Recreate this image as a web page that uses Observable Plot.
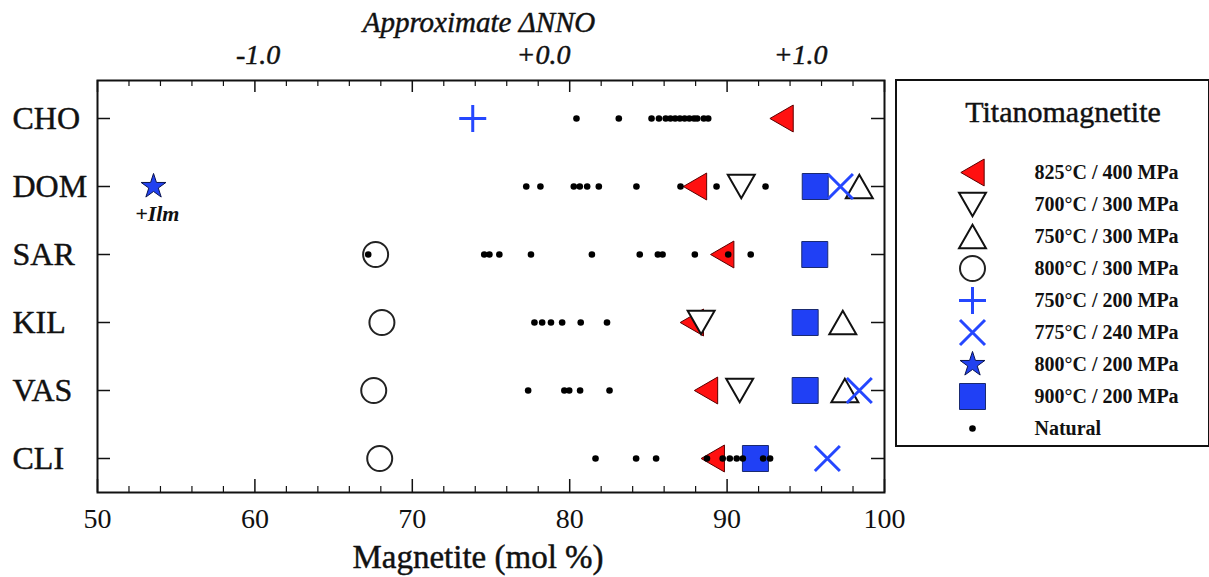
<!DOCTYPE html>
<html><head><meta charset="utf-8">
<script src="https://cdn.jsdelivr.net/npm/d3@7"></script>
<script src="https://cdn.jsdelivr.net/npm/@observablehq/plot@0.6"></script>
<style>
body{margin:0;background:#fff;}
#wrap{position:relative;width:1209px;height:577px;overflow:hidden;}
#legend{position:absolute;left:895px;top:79px;width:311px;height:364px;border:2px solid #111;background:#fff;}
svg{overflow:visible;}
</style></head><body><div id="wrap"><div id="chart"></div><div id="legend"></div></div>
<script>
// ---------- data ----------
const rows = ["CHO", "DOM", "SAR", "KIL", "VAS", "CLI"];
const xTickValues = [50, 60, 70, 80, 90, 100];
const xMinorTicks = [52, 54, 56, 58, 62, 64, 66, 68, 72, 74, 76, 78, 82, 84, 86, 88, 92, 94, 96, 98];
const nnoLabels = ["-1.0", "+0.0", "+1.0"];
const nnoAt = [60.2, 78.34, 94.67];
const topTitle = "Approximate \u0394NNO";
const xLabel = "Magnetite (mol %)";
const legendTitle = "Titanomagnetite";

// experimental runs: [row, magnetite mol%]
const t825_400 = [["CHO", 93.46], ["DOM", 87.96], ["SAR", 89.69], ["KIL", 87.76], ["VAS", 88.66], ["CLI", 89.09]];
const t700_300 = [["DOM", 90.9], ["KIL", 88.35], ["VAS", 90.8]];
const t750_300 = [["DOM", 98.4], ["KIL", 97.35], ["VAS", 97.48]];
const t800_300 = [["SAR", 67.67], ["KIL", 68.07], ["VAS", 67.55], ["CLI", 67.93]];
const t750_200 = [["CHO", 73.84]];
const t775_240 = [["DOM", 97.2], ["VAS", 98.4], ["CLI", 96.37]];
const t800_200 = [["DOM", 53.56]];
const t900_200 = [["DOM", 95.6], ["SAR", 95.57], ["KIL", 94.96], ["VAS", 94.96], ["CLI", 91.8]];

// natural samples
const naturalCHO = [80.43, 83.12, 85.2, 85.67, 86.1, 86.4, 86.7, 87.0, 87.3, 87.6, 87.9, 88.1, 88.52, 88.8];
const naturalDOM = [77.24, 78.14, 80.26, 80.64, 81.11, 81.85, 84.24, 87.04, 89.33, 92.44];
const naturalSAR = [67.2, 74.57, 74.9, 75.53, 77.54, 81.41, 84.45, 85.6, 85.9, 87.95, 90.07, 91.5];
const naturalKIL = [77.76, 78.25, 78.81, 79.52, 80.7, 82.37];
const naturalVAS = [77.36, 79.66, 79.97, 80.66, 82.53];
const naturalCLI = [81.64, 84.22, 85.49, 88.72, 89.72, 90.17, 90.61, 91.0, 92.29, 92.73];

const ilmNote = [{row: "DOM", x: 53.8, label: "+Ilm"}];

// ---------- symbols & styles ----------
const sqrt3 = Math.sqrt(3);
function triSymbol(rot) {
  return {draw(ctx, size) {
    const y = -Math.sqrt(size / (sqrt3 * 3));
    let p = [[0, y * 2], [-sqrt3 * y, -y], [sqrt3 * y, -y]].map(rot);
    const xs = p.map(q => q[0]), ys = p.map(q => q[1]);
    const cx = (Math.min(...xs) + Math.max(...xs)) / 2, cy = (Math.min(...ys) + Math.max(...ys)) / 2;
    p = p.map(([a, b]) => [a - cx, b - cy]);
    ctx.moveTo(p[0][0], p[0][1]); ctx.lineTo(p[1][0], p[1][1]); ctx.lineTo(p[2][0], p[2][1]); ctx.closePath();
  }};
}
const triLeft = triSymbol(([x, y]) => [y, -x]);
const triDown = triSymbol(([x, y]) => [x, -y]);
const triUp = triSymbol(p => p);
const plusSym = {draw(ctx, size) { const r = Math.sqrt(size / Math.PI); ctx.moveTo(-r, 0); ctx.lineTo(r, 0); ctx.moveTo(0, -r); ctx.lineTo(0, r); }};
const timesSym = {draw(ctx, size) { const r = Math.sqrt(size / Math.PI); ctx.moveTo(-r, -r); ctx.lineTo(r, r); ctx.moveTo(-r, r); ctx.lineTo(r, -r); }};
const squareSym = {draw(ctx, size) { const r = Math.sqrt(size / Math.PI); ctx.moveTo(-r, -r); ctx.lineTo(r, -r); ctx.lineTo(r, r); ctx.lineTo(-r, r); ctx.closePath(); }};

const blue = "#2547ff";
const styles = {
  "825°C / 400 MPa": {symbol: triLeft, r: 10, fill: "#ff1010", stroke: "#5a0000", strokeWidth: 1},
  "700°C / 300 MPa": {symbol: triDown, r: 10, fill: "#fff", stroke: "#111", strokeWidth: 2},
  "750°C / 300 MPa": {symbol: triUp, r: 10, fill: "#fff", stroke: "#111", strokeWidth: 2},
  "800°C / 300 MPa": {symbol: "circle", r: 12.5, fill: "none", stroke: "#222", strokeWidth: 2},
  "750°C / 200 MPa": {symbol: plusSym, r: 13.5, fill: "none", stroke: blue, strokeWidth: 3},
  "775°C / 240 MPa": {symbol: timesSym, r: 12.5, fill: "none", stroke: blue, strokeWidth: 3},
  "800°C / 200 MPa": {symbol: "star", r: 7.8, fill: "#2242f0", stroke: "#0a1450", strokeWidth: 1},
  "900°C / 200 MPa": {symbol: squareSym, r: 13, fill: "#2040f5", stroke: "#1a2a70", strokeWidth: 1},
  "Natural": {symbol: "circle", r: 3.3, fill: "#000", stroke: "none", strokeWidth: 0}
};
const series = {
  "825°C / 400 MPa": t825_400, "700°C / 300 MPa": t700_300, "750°C / 300 MPa": t750_300,
  "800°C / 300 MPa": t800_300, "750°C / 200 MPa": t750_200, "775°C / 240 MPa": t775_240,
  "800°C / 200 MPa": t800_200, "900°C / 200 MPa": t900_200
};
const legendNames = ["825°C / 400 MPa", "700°C / 300 MPa", "750°C / 300 MPa", "800°C / 300 MPa",
  "750°C / 200 MPa", "775°C / 240 MPa", "800°C / 200 MPa", "900°C / 200 MPa", "Natural"];
const drawOrder = ["825°C / 400 MPa", "700°C / 300 MPa", "900°C / 200 MPa", "750°C / 300 MPa",
  "800°C / 300 MPa", "750°C / 200 MPa", "775°C / 240 MPa", "800°C / 200 MPa"];

const natural = [
  ...naturalCHO.map(v => ["CHO", v]), ...naturalDOM.map(v => ["DOM", v]),
  ...naturalSAR.map(v => ["SAR", v]), ...naturalKIL.map(v => ["KIL", v]),
  ...naturalVAS.map(v => ["VAS", v]), ...naturalCLI.map(v => ["CLI", v])
];

// ---------- main chart ----------
const serif = "'Liberation Serif', 'Times New Roman', serif";
const W = 1209, H = 577, mL = 97, mR = 325, mT = 80, mB = 85;
const frameH = H - mT - mB, frameW = W - mL - mR;
const ink = "#111";
const heavy = {stroke: ink, strokeWidth: 0.45, fill: ink, fontFamily: serif};

const marks = [
  Plot.frame({stroke: ink, strokeWidth: 2}),
  Plot.tickX(xTickValues, {x: d => d, insetTop: frameH - 13, stroke: ink, strokeWidth: 1.5}),
  Plot.tickX(xMinorTicks, {x: d => d, insetTop: frameH - 6, stroke: ink, strokeWidth: 1.2}),
  Plot.tickX(xTickValues, {x: d => d, insetBottom: frameH - 12, stroke: ink, strokeWidth: 1.5}),
  Plot.tickX(xMinorTicks, {x: d => d, insetBottom: frameH - 6, stroke: ink, strokeWidth: 1.2}),
  Plot.tickY(rows, {y: d => d, insetRight: frameW - 13, stroke: ink, strokeWidth: 1.5}),
  Plot.tickY(rows, {y: d => d, insetLeft: frameW - 13, stroke: ink, strokeWidth: 1.5}),
  Plot.axisX(xTickValues, {anchor: "bottom", label: null, tickSize: 0, tickPadding: 16, fontSize: 28, ...heavy, tickFormat: d => String(d)}),
  Plot.text(nnoLabels, {x: (d, i) => nnoAt[i], text: d => d, frameAnchor: "top", lineAnchor: "middle", dy: -25, fontSize: 28, fontStyle: "italic", ...heavy}),
  Plot.text([topTitle], {text: d => d, frameAnchor: "top", lineAnchor: "middle", dy: -58, dx: -12, fontSize: 29, fontStyle: "italic", ...heavy}),
  Plot.text([xLabel], {text: d => d, frameAnchor: "bottom", lineAnchor: "middle", dy: 65, dx: -13, fontSize: 33, ...heavy}),
  Plot.text(rows, {y: d => d, text: d => d, frameAnchor: "left", dx: -85, textAnchor: "start", fontSize: 32, ...heavy})
];
for (const name of drawOrder) {
  const s = styles[name];
  marks.push(Plot.dot(series[name], {x: d => d[1], y: d => d[0], symbol: s.symbol, r: s.r, fill: s.fill, stroke: s.stroke, strokeWidth: s.strokeWidth}));
}
const sn = styles["Natural"];
marks.push(Plot.dot(natural, {x: d => d[1], y: d => d[0], symbol: sn.symbol, r: sn.r, fill: sn.fill, stroke: "none"}));
marks.push(Plot.text(ilmNote, {x: "x", y: "row", text: "label", dy: 27, fontSize: 22, fontStyle: "italic", fontWeight: "bold", fontFamily: serif, fill: ink}));

const chart = Plot.plot({
  width: W, height: H, marginLeft: mL, marginRight: mR, marginTop: mT, marginBottom: mB,
  style: {fontFamily: serif, background: "#fff", color: ink},
  x: {domain: [50, 100], label: null},
  y: {type: "point", domain: rows, range: [116, 460], padding: 0, axis: null},
  marks
});
document.getElementById("chart").append(chart);

// ---------- legend ----------
const lmarks = [
  Plot.text([legendTitle], {text: d => d, frameAnchor: "top", lineAnchor: "middle", dy: 31, dx: 10, fontSize: 30, ...heavy}),
  Plot.text(legendNames, {y: d => d, text: d => d, frameAnchor: "left", dx: 137, textAnchor: "start", fontSize: 20, fontWeight: "bold", fontFamily: serif, fill: ink})
];
for (const name of legendNames) {
  const s = styles[name];
  lmarks.push(Plot.dot([name], {y: d => d, frameAnchor: "left", dx: 75, symbol: s.symbol, r: s.r, fill: s.fill, stroke: s.stroke, strokeWidth: s.strokeWidth}));
}
const legend = Plot.plot({
  width: 311, height: 364, margin: 0,
  style: {fontFamily: serif, background: "#fff", color: ink},
  y: {type: "point", domain: legendNames, range: [89, 349], padding: 0, axis: null},
  marks: lmarks
});
document.getElementById("legend").append(legend);
</script>
</body></html>
